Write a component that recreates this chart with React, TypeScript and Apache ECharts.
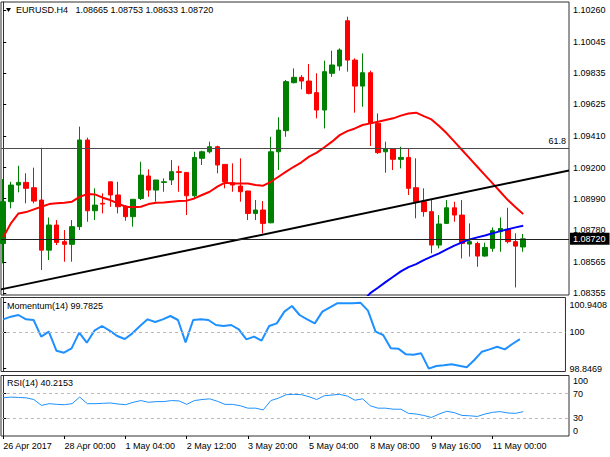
import React, { useEffect, useRef } from "react";
import * as echarts from "echarts";

const FONT = '"Liberation Sans", Arial, sans-serif';
const GREEN = "#008000";
const RED = "#ff0000";
const BORDER = "#303030";

const symbolName = "EURUSD.H4";

const timeLabels = [
  "26 Apr 2017",
  "28 Apr 00:00",
  "1 May 04:00",
  "2 May 12:00",
  "3 May 20:00",
  "5 May 04:00",
  "8 May 08:00",
  "9 May 16:00",
  "11 May 00:00",
];
const timeTickIndex = [0, 8, 16, 24, 32, 40, 48, 56, 64];

const openPrices = [
  1.08689, 1.0897, 1.09082, 1.091, 1.09064, 1.08981, 1.08644, 1.08813, 1.08701, 1.08683,
  1.08802, 1.09385, 1.08909, 1.08959, 1.09104, 1.09015, 1.08941, 1.08869, 1.08992, 1.09143,
  1.09048, 1.091, 1.09116, 1.09172, 1.09167, 1.0901, 1.09262, 1.09306, 1.0934, 1.09221,
  1.09098, 1.09075, 1.09042, 1.08891, 1.08914, 1.08828, 1.09306, 1.09448, 1.09771, 1.09807,
  1.09782, 1.09704, 1.09587, 1.09834, 1.09883, 1.10188, 1.09923, 1.09748, 1.09838, 1.09497,
  1.09306, 1.09324, 1.09255, 1.09268, 1.09064, 1.0897, 1.08903, 1.08678, 1.08824, 1.08929,
  1.0888, 1.08685, 1.08689, 1.08604, 1.08656, 1.08768, 1.08784, 1.08701, 1.08665,
];
const closePrices = [
  1.0897, 1.09082, 1.091, 1.0906, 1.08974, 1.08644, 1.08813, 1.08696, 1.08683, 1.08802,
  1.09385, 1.08909, 1.08947, 1.08954, 1.09015, 1.08936, 1.08869, 1.08986, 1.09149, 1.09048,
  1.09116, 1.09104, 1.09172, 1.09167, 1.0901, 1.09268, 1.09306, 1.0934, 1.09217, 1.09104,
  1.09082, 1.09037, 1.08891, 1.08914, 1.08824, 1.09306, 1.09452, 1.09778, 1.09807, 1.09782,
  1.09699, 1.09587, 1.09845, 1.0989, 1.09991, 1.09923, 1.09748, 1.09838, 1.09497, 1.093,
  1.09324, 1.09255, 1.09268, 1.0906, 1.0897, 1.08903, 1.08678, 1.0882, 1.08929, 1.0888,
  1.08689, 1.08701, 1.08604, 1.08662, 1.08775, 1.0879, 1.08701, 1.08671, 1.0872,
];
const lowPrices = [
  1.08555, 1.08925, 1.09033, 1.08959, 1.08959, 1.0851, 1.08577, 1.08678, 1.08566, 1.08566,
  1.08779, 1.08835, 1.08846, 1.08891, 1.08936, 1.08891, 1.08842, 1.08802, 1.08981, 1.09003,
  1.0897, 1.09037, 1.09082, 1.09037, 1.0888, 1.08992, 1.09217, 1.09295, 1.09161, 1.0906,
  1.09037, 1.0897, 1.08846, 1.08846, 1.08757, 1.08824, 1.09183, 1.09407, 1.09766, 1.09726,
  1.09692, 1.09531, 1.09463, 1.09811, 1.09852, 1.09845, 1.09569, 1.09609, 1.09345, 1.09291,
  1.09165, 1.09183, 1.09194, 1.09015, 1.08858, 1.08869, 1.08622, 1.08656, 1.0882, 1.08835,
  1.08588, 1.086, 1.08532, 1.086, 1.08633, 1.08633, 1.08689, 1.08393, 1.08633,
];
const highPrices = [
  1.09122, 1.09104, 1.09212, 1.09161, 1.09199, 1.09333, 1.08864, 1.08846, 1.08779, 1.08846,
  1.09475, 1.09401, 1.0906, 1.09026, 1.09104, 1.09104, 1.08947, 1.08986, 1.09239, 1.09188,
  1.09116, 1.09127, 1.0925, 1.09212, 1.09167, 1.09306, 1.09313, 1.09374, 1.09347, 1.09221,
  1.09228, 1.09262, 1.09042, 1.08981, 1.08974, 1.09407, 1.09538, 1.09789, 1.09867, 1.09822,
  1.09897, 1.09834, 1.09919, 1.09986, 1.10002, 1.10215, 1.09935, 1.09968, 1.09852, 1.09564,
  1.09374, 1.09324, 1.0934, 1.09329, 1.09262, 1.0906, 1.08981, 1.0888, 1.08981, 1.0897,
  1.08981, 1.08824, 1.08701, 1.08694, 1.08797, 1.08864, 1.08929, 1.08757, 1.08753,
];

const redMa = [
  1.0873, 1.08824, 1.08891, 1.089, 1.08918, 1.08936, 1.08954, 1.08959, 1.08963, 1.0897,
  1.09003, 1.09021, 1.09019, 1.08997, 1.08981, 1.08959, 1.08936, 1.08932, 1.08936, 1.08954,
  1.08963, 1.08965, 1.0897, 1.08974, 1.08977, 1.08992, 1.09015, 1.09037, 1.09071, 1.09098,
  1.09093, 1.09093, 1.09093, 1.09082, 1.09078, 1.09104, 1.09138, 1.09172, 1.09205, 1.09235,
  1.09273, 1.093, 1.09336, 1.09374, 1.09418, 1.09445, 1.09463, 1.09486, 1.09497, 1.09508,
  1.0952, 1.09531, 1.09549, 1.09564, 1.09569, 1.09546, 1.09524, 1.09479, 1.0943, 1.09374,
  1.09318, 1.09262, 1.09205, 1.09149, 1.09093, 1.09037, 1.08981, 1.08932, 1.08887,
];

const blueMaStart = 47;
const blueMa = [
  1.08297, 1.08355, 1.08391, 1.08429, 1.08465, 1.08501, 1.0853, 1.0855, 1.08577, 1.086,
  1.08622, 1.08649, 1.08674, 1.08696, 1.08716, 1.0873, 1.08743, 1.08757, 1.08772, 1.08784,
  1.08797, 1.08808,
];

const trendLine = [
  [-0.29, 1.0838],
  [73.99, 1.0918],
];
const fibLevel = 1.09331;
const fibText = "61.8";

const momentum = [
  100.4121, 100.4967, 100.5496, 100.4121, 100.391, 99.8622, 100.0209, 99.4181, 99.3547, 99.4922,
  99.9891, 99.6719, 100.0526, 100.2006, 100.0526, 99.8834, 99.7882, 99.968, 100.2006, 100.4121,
  100.3275, 100.4121, 100.5178, 100.391, 99.6824, 100.391, 100.4121, 100.391, 100.2324, 100.2006,
  100.2324, 100.0949, 99.7776, 99.8622, 99.7358, 100.2006, 100.2852, 100.6553, 100.8351, 100.5496,
  100.4121, 100.2852, 100.6553, 100.7928, 100.925, 100.9197, 100.9197, 100.9408, 100.687, 100.0209,
  99.9152, 99.4922, 99.4816, 99.3018, 99.2912, 99.3335, 98.8469, 98.9316, 98.9527, 98.9844,
  98.9421, 98.8892, 99.1219, 99.3863, 99.4587, 99.5403, 99.4587, 99.6296, 99.7825,
];
const momentumTicks = [98.8469, 100, 100.9408];

const rsi = [
  63.14, 64.29, 63.71, 63.14, 60.29, 50.57, 53.43, 52.29, 51.71, 53.43,
  64.29, 53.43, 53.43, 54.0, 54.57, 52.86, 51.71, 55.71, 58.57, 55.71,
  56.86, 56.86, 58.57, 58.0, 52.29, 58.57, 60.29, 61.43, 57.43, 52.29,
  52.29, 50.0, 46.0, 46.0, 43.14, 58.57, 62.57, 68.29, 68.86, 68.29,
  64.86, 60.29, 66.57, 67.71, 68.86, 66.0, 59.14, 61.43, 50.0, 46.0,
  46.0, 44.29, 44.29, 37.43, 36.29, 34.0, 30.57, 36.29, 40.86, 38.57,
  34.0, 33.43, 32.29, 36.29, 39.14, 40.29, 38.0, 37.43, 40.2153,
];
const rsiScaleMin = 0;
const rsiScaleMax = 100;
const rsiLevels = [70, 30];

const priceTicks = [
  1.08355, 1.08565, 1.0878, 1.0899, 1.092, 1.0941, 1.09625, 1.09835, 1.10045, 1.1026,
];

const X_MIN = -0.29;
const X_MAX = 73.99;

export default function App() {
  const ref = useRef<HTMLDivElement>(null);

  useEffect(() => {
    if (!ref.current) return;
    const chart = echarts.init(ref.current, undefined, { renderer: "svg" });
    const last = openPrices.length - 1;
    const f5 = (v: number) => v.toFixed(5);
    const title = `${symbolName}   ${f5(openPrices[last])} ${f5(highPrices[last])} ${f5(lowPrices[last])} ${f5(closePrices[last])}`;
    const lastClose = closePrices[last];

    const candleData = openPrices.map((o, i) => [i, o, closePrices[i], lowPrices[i], highPrices[i]]);

    const labelBase = { color: "#000", fontSize: 9, fontFamily: FONT };
    const gridBase = { left: 1, width: 568, show: true, borderColor: BORDER, borderWidth: 1, containLabel: false };

    const xAxes = [0, 1, 2].map((g) => ({
      type: "value",
      gridIndex: g,
      min: X_MIN,
      max: X_MAX,
      axisLine: { show: false },
      splitLine: { show: false },
      axisTick: g === 2
        ? { show: true, customValues: timeTickIndex, length: 3, lineStyle: { color: "#000" } }
        : { show: false },
      axisLabel: g === 2
        ? {
            show: true,
            customValues: timeTickIndex,
            formatter: (v: number) => timeLabels[timeTickIndex.indexOf(Math.round(v))] ?? "",
            align: "left",
            margin: 5,
            ...labelBase,
          }
        : { show: false },
    }));

    const yBase = {
      type: "value",
      position: "right",
      axisLine: { show: true, lineStyle: { color: BORDER } },
      splitLine: { show: false },
    };

    const option: any = {
      animation: false,
      backgroundColor: "#fff",
      textStyle: { fontFamily: FONT },
      grid: [
        { ...gridBase, top: 2, height: 293 },
        { ...gridBase, top: 297.5, height: 74 },
        { ...gridBase, top: 375.5, height: 60.5 },
      ],
      xAxis: xAxes,
      yAxis: [
        {
          ...yBase,
          gridIndex: 0,
          min: 1.08342,
          max: 1.10314,
          axisTick: { show: true, customValues: priceTicks, length: 3, lineStyle: { color: "#000" } },
          axisLabel: {
            customValues: priceTicks,
            showMinLabel: true,
            showMaxLabel: true,
            hideOverlap: false,
            formatter: (v: number) => v.toFixed(5),
            margin: 4,
            ...labelBase,
          },
        },
        {
          ...yBase,
          gridIndex: 1,
          min: 98.7571,
          max: 101.1048,
          axisTick: { show: true, customValues: momentumTicks, length: 3, lineStyle: { color: "#000" } },
          axisLabel: {
            customValues: momentumTicks,
            showMinLabel: true,
            showMaxLabel: true,
            hideOverlap: false,
            formatter: (v: number) => (v === momentumTicks[2] ? `{t|${v}}` : String(v)),
            margin: 4,
            ...labelBase,
            rich: { t: { ...labelBase, padding: [4, 0, 0, 0] } },
          },
        },
        {
          ...yBase,
          gridIndex: 2,
          min: rsiScaleMin,
          max: rsiScaleMax,
          axisTick: { show: true, customValues: rsiLevels, length: 3, lineStyle: { color: "#000" } },
          axisLabel: {
            customValues: rsiLevels,
            hideOverlap: false,
            formatter: (v: number) => String(Math.round(v)),
            margin: 4,
            ...labelBase,
          },
        },
      ],
      series: [
        {
          type: "candlestick",
          xAxisIndex: 0,
          yAxisIndex: 0,
          data: candleData,
          encode: { x: 0, y: [1, 2, 3, 4] },
          barWidth: 5,
          silent: true,
          itemStyle: { color: GREEN, color0: RED, borderColor: GREEN, borderColor0: RED, borderWidth: 1 },
        },
        {
          type: "line",
          xAxisIndex: 0,
          yAxisIndex: 0,
          data: redMa.map((v, i) => [i, v]),
          symbol: "none",
          silent: true,
          lineStyle: { color: RED, width: 2 },
          z: 3,
        },
        {
          type: "line",
          xAxisIndex: 0,
          yAxisIndex: 0,
          data: blueMa.map((v, i) => [i + blueMaStart, v]),
          symbol: "none",
          silent: true,
          lineStyle: { color: "#0000ff", width: 2 },
          z: 3,
        },
        {
          type: "line",
          xAxisIndex: 0,
          yAxisIndex: 0,
          data: trendLine,
          symbol: "none",
          silent: true,
          lineStyle: { color: "#000", width: 2 },
          z: 3,
          markLine: {
            silent: true,
            symbol: ["none", "none"],
            precision: 5,
            animation: false,
            data: [
              {
                yAxis: fibLevel,
                lineStyle: { color: "#4a4a4a", width: 1, type: "solid" },
                label: { show: true, position: "insideEndTop", formatter: fibText, distance: [3, 3], ...labelBase },
              },
              {
                yAxis: lastClose,
                lineStyle: { color: "#202020", width: 1, type: "solid" },
                label: {
                  show: true,
                  position: "end",
                  formatter: f5(lastClose),
                  distance: 1,
                  color: "#fff",
                  fontSize: 9,
                  fontFamily: FONT,
                  backgroundColor: "#000",
                  padding: [2, 4, 1, 3],
                },
              },
            ],
          },
        },
        {
          type: "line",
          xAxisIndex: 1,
          yAxisIndex: 1,
          data: momentum.map((v, i) => [i, v]),
          symbol: "none",
          silent: true,
          lineStyle: { color: "#1e90ff", width: 2 },
          markLine: {
            silent: true,
            symbol: ["none", "none"],
            precision: 4,
            label: { show: false },
            lineStyle: { color: "#c0b8b8", width: 1, type: [3, 3] },
            data: [{ yAxis: 100 }],
          },
        },
        {
          type: "line",
          xAxisIndex: 2,
          yAxisIndex: 2,
          data: rsi.map((v, i) => [i, v]),
          symbol: "none",
          silent: true,
          lineStyle: { color: "#1e90ff", width: 1 },
          markLine: {
            silent: true,
            symbol: ["none", "none"],
            precision: 2,
            label: { show: false },
            lineStyle: { color: "#c0b8b8", width: 1, type: [3, 3] },
            data: rsiLevels.map((v) => ({ yAxis: v })),
          },
        },
      ],
    };

    chart.setOption(option);

    // Place the RSI scale's end labels next to the axis, pulled slightly
    // inside the panel as the terminal draws them.
    const yTop = chart.convertToPixel({ yAxisIndex: 2 } as any, rsiScaleMax) as number;
    const yBot = chart.convertToPixel({ yAxisIndex: 2 } as any, rsiScaleMin) as number;
    const xAxisPos = chart.convertToPixel({ xAxisIndex: 2 } as any, X_MAX) as number;
    const mk = (text: string, y: number) => ({
      type: "text",
      left: xAxisPos + 4,
      top: y - 5,
      z: 100,
      silent: true,
      style: { text, fill: "#000", font: `9px ${FONT}` },
    });

    chart.setOption({
      graphic: [
        {
          type: "polygon",
          shape: { points: [[6, 8], [11, 8], [8.5, 12]] },
          style: { fill: "#000" },
          silent: true,
        },
        {
          type: "text",
          left: 16,
          top: 5,
          silent: true,
          style: { text: title, fill: "#000", font: `9px ${FONT}` },
        },
        {
          type: "text",
          left: 7,
          top: 301,
          silent: true,
          style: { text: `Momentum(14) ${momentum[last].toFixed(4)}`, fill: "#000", font: `9px ${FONT}` },
        },
        {
          type: "text",
          left: 7,
          top: 378,
          silent: true,
          style: { text: `RSI(14) ${rsi[last].toFixed(4)}`, fill: "#000", font: `9px ${FONT}` },
        },
        mk(String(rsiScaleMax), yTop + 5.5),
        mk(String(rsiScaleMin), yBot - 5),
      ],
    });

    return () => chart.dispose();
  }, []);

  return (
    <div
      ref={ref}
      style={{ position: "absolute", left: 0, top: 0, width: 610, height: 457, background: "#fff" }}
    />
  );
}
